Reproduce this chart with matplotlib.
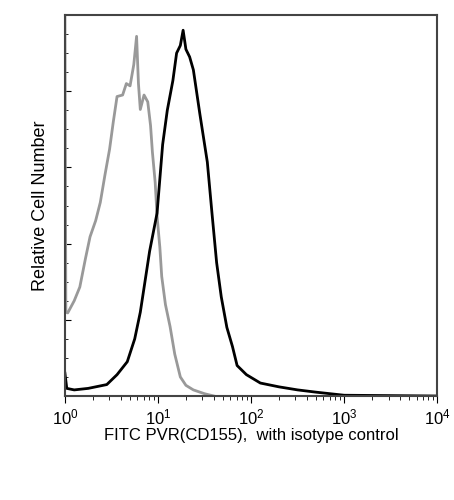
import matplotlib.pyplot as plt
import numpy as np

# log10 fluorescence positions and relative counts
iso_x = [0.00, 0.01, 0.03, 0.10, 0.16, 0.22, 0.27, 0.33, 0.38, 0.43, 0.48, 0.52, 0.56, 0.62, 0.66, 0.70,
         0.74, 0.77, 0.79, 0.81, 0.85, 0.89, 0.92, 0.94, 0.97, 0.99, 1.02, 1.04, 1.08, 1.13, 1.18,
         1.24, 1.30, 1.38, 1.50, 1.60]
iso_y = [5.00, 1.10, 1.09, 1.25, 1.43, 1.80, 2.09, 2.30, 2.54, 2.90, 3.24, 3.60, 3.93, 3.95, 4.10, 4.07,
         4.35, 4.72, 4.10, 3.76, 3.95, 3.86, 3.55, 3.20, 2.80, 2.36, 1.95, 1.57, 1.20, 0.91, 0.55,
         0.25, 0.14, 0.08, 0.03, 0.00]
pvr_x = [0.00, 0.02, 0.10, 0.25, 0.45, 0.56, 0.67, 0.75, 0.81, 0.86, 0.91, 0.95, 0.99, 1.02, 1.05,
         1.10, 1.16, 1.20, 1.24, 1.27, 1.30, 1.34, 1.38, 1.45, 1.53, 1.58, 1.63, 1.68, 1.74, 1.80,
         1.85, 1.95, 2.10, 2.30, 2.50, 2.70, 2.85, 3.00, 4.00]
pvr_y = [0.30, 0.10, 0.08, 0.10, 0.15, 0.28, 0.45, 0.75, 1.10, 1.50, 1.90, 2.15, 2.40, 2.85, 3.30,
         3.75, 4.14, 4.50, 4.60, 4.80, 4.55, 4.45, 4.28, 3.70, 3.07, 2.40, 1.75, 1.30, 0.90, 0.65,
         0.40, 0.28, 0.17, 0.12, 0.08, 0.05, 0.03, 0.01, 0.00]

plt.rcParams['font.family'] = ['Liberation Sans', 'DejaVu Sans']
fig = plt.figure(figsize=(4.54, 5), dpi=100)
ax = fig.add_axes([0.143, 0.208, 0.82, 0.762])

ax.plot(10 ** np.array(iso_x), iso_y, color='#999999', lw=2)
ax.plot(10 ** np.array(pvr_x), pvr_y, color='black', lw=2)

ax.set_xscale('log')
ax.set_xlim(1, 1e4)
ax.set_ylim(0, 5)
ax.set_yticks([1, 2, 3, 4])
ax.set_yticks(np.arange(0.25, 5, 0.25), minor=True)
ax.tick_params(axis='y', direction='in', labelleft=False, length=4)
ax.tick_params(axis='y', which='minor', direction='in', length=2)
ax.tick_params(axis='x', direction='out', labelsize=12, length=5)
ax.tick_params(axis='x', which='minor', direction='out', length=3)
for s in ax.spines.values():
    s.set_linewidth(1.5)
    s.set_color('#444444')
ax.set_ylabel('Relative Cell Number', fontsize=13, labelpad=8)
ax.set_xlabel('FITC PVR(CD155),  with isotype control', fontsize=12, labelpad=0)

fig.savefig('out.png', dpi=100)
